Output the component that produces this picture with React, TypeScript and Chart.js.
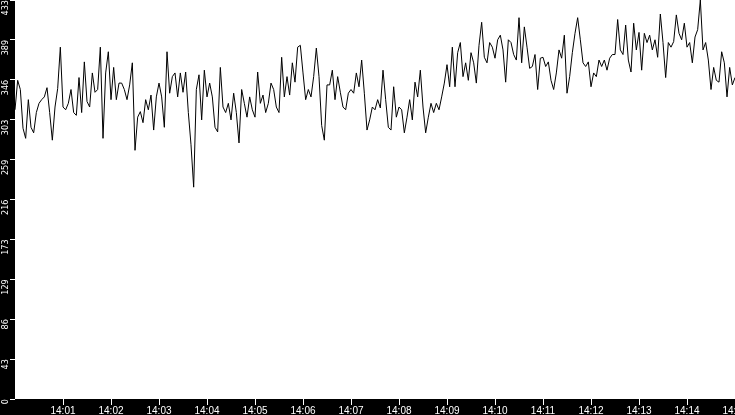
import { useEffect, useRef } from 'react';
import { Chart, registerables } from 'chart.js';

Chart.register(...registerables);

// one sample every 3 1/3 seconds, 14:00:00 to 14:15:00
const values = [
  314, 346, 336, 294, 283, 325, 295, 289, 311, 321, 325, 328, 338, 311, 281, 317, 337, 382, 317, 314, 321, 336, 311, 308, 349, 311, 366, 323, 317, 354, 333, 336, 382, 283, 354, 377, 325, 360, 325, 343, 343, 336, 325, 341, 365,
  270, 306, 312, 300, 325, 314, 330, 292, 328, 343, 328, 295, 377, 332, 350, 354, 328, 354, 333, 355, 311, 276, 230, 336, 352, 303, 357, 328, 343, 328, 295, 290, 360, 317, 311, 321, 303, 332, 311, 278, 336, 321, 306, 328, 314,
  306, 355, 321, 330, 311, 321, 343, 336, 317, 311, 371, 328, 350, 330, 365, 344, 382, 384, 354, 325, 336, 328, 350, 381, 350, 297, 281, 341, 341, 357, 325, 350, 333, 317, 314, 332, 336, 332, 354, 339, 368, 332, 292, 303, 317,
  314, 325, 316, 357, 325, 295, 292, 339, 306, 317, 314, 289, 306, 325, 303, 344, 328, 357, 317, 289, 306, 321, 311, 321, 314, 328, 343, 363, 339, 382, 339, 376, 387, 350, 365, 346, 376, 365, 343, 384, 409, 371, 365, 387, 382,
  370, 390, 395, 379, 344, 390, 387, 374, 368, 414, 365, 404, 382, 359, 361, 374, 336, 370, 371, 361, 366, 346, 336, 354, 379, 370, 395, 332, 350, 376, 397, 414, 390, 365, 361, 366, 339, 354, 350, 368, 361, 368, 357, 370, 374,
  374, 412, 379, 374, 406, 368, 355, 408, 379, 398, 357, 397, 387, 395, 379, 390, 371, 418, 387, 349, 387, 382, 388, 417, 397, 390, 408, 382, 387, 365, 393, 401, 433.2, 379, 387, 368, 336, 360, 346, 344, 377, 365, 328, 360, 341, 349,
];

const totalSeconds = 900;
const yMax = 433.2;

const xTickLabels = ['', '14:01', '14:02', '14:03', '14:04', '14:05', '14:06', '14:07', '14:08', '14:09', '14:10', '14:11', '14:12', '14:13', '14:14', '14:15'];
const yTickLabels = ['0', '43', '86', '129', '173', '216', '259', '303', '346', '389', '433'];

const blackFrame = {
  id: 'blackFrame',
  beforeDraw(chart: any) {
    const { ctx, width, height, chartArea } = chart;
    ctx.save();
    ctx.fillStyle = '#000';
    ctx.fillRect(0, 0, width, height);
    ctx.fillStyle = '#fff';
    ctx.fillRect(chartArea.left, chartArea.top, chartArea.right - chartArea.left, chartArea.bottom - chartArea.top);
    ctx.restore();
  },
};

const App = () => {
  const chartRef = useRef<HTMLCanvasElement>(null);

  useEffect(() => {
    document.body.style.margin = '0';
    const ctx = chartRef.current?.getContext('2d');
    if (!ctx) return;

    const step = totalSeconds / (values.length - 1);
    const points = values.map((v, i) => ({ x: i * step, y: v }));

    const chart = new Chart(ctx, {
      type: 'line',
      data: {
        datasets: [
          {
            data: points,
            borderColor: '#000',
            borderWidth: 1,
            pointRadius: 0,
            tension: 0,
            fill: false,
          },
        ],
      },
      options: {
        responsive: false,
        animation: false,
        devicePixelRatio: 1,
        events: [],
        layout: { padding: 0 },
        plugins: { legend: { display: false }, tooltip: { enabled: false } },
        scales: {
          x: {
            type: 'linear',
            min: 0,
            max: totalSeconds,
            border: { display: false },
            grid: {
              drawOnChartArea: false,
              tickLength: 6,
              color: (c: any) => (c.index === 0 ? 'rgba(0,0,0,0)' : '#fff'),
            },
            ticks: {
              stepSize: 60,
              autoSkip: false,
              maxRotation: 0,
              padding: 0,
              color: '#fff',
              font: { family: '"Liberation Sans", Arial, sans-serif', size: 10 },
              callback: (_v: any, i: number) => xTickLabels[i],
            },
            afterFit: (s: any) => {
              s.height = 16;
              s.paddingLeft = 0;
              s.paddingRight = 0;
            },
          },
          y: {
            min: 0,
            max: yMax,
            border: { display: false },
            grid: { drawOnChartArea: false, tickLength: 5, color: '#fff' },
            afterBuildTicks: (s: any) => {
              s.ticks = yTickLabels.map((_, i) => ({ value: (i * yMax) / 10 }));
            },
            ticks: {
              minRotation: 90,
              maxRotation: 90,
              padding: 4,
              color: '#fff',
              font: { family: '"Liberation Sans Narrow", "DejaVu Sans Condensed", sans-serif', size: 9 },
              callback: (_v: any, i: number) => yTickLabels[i],
            },
            afterFit: (s: any) => {
              s.width = 15;
              s.paddingTop = 0;
              s.paddingBottom = 0;
            },
          },
        },
      },
      plugins: [blackFrame],
    });

    return () => chart.destroy();
  }, []);

  return (
    <div style={{ width: 735, height: 415 }}>
      <canvas ref={chartRef} width={735} height={415} />
    </div>
  );
};

export default App;
